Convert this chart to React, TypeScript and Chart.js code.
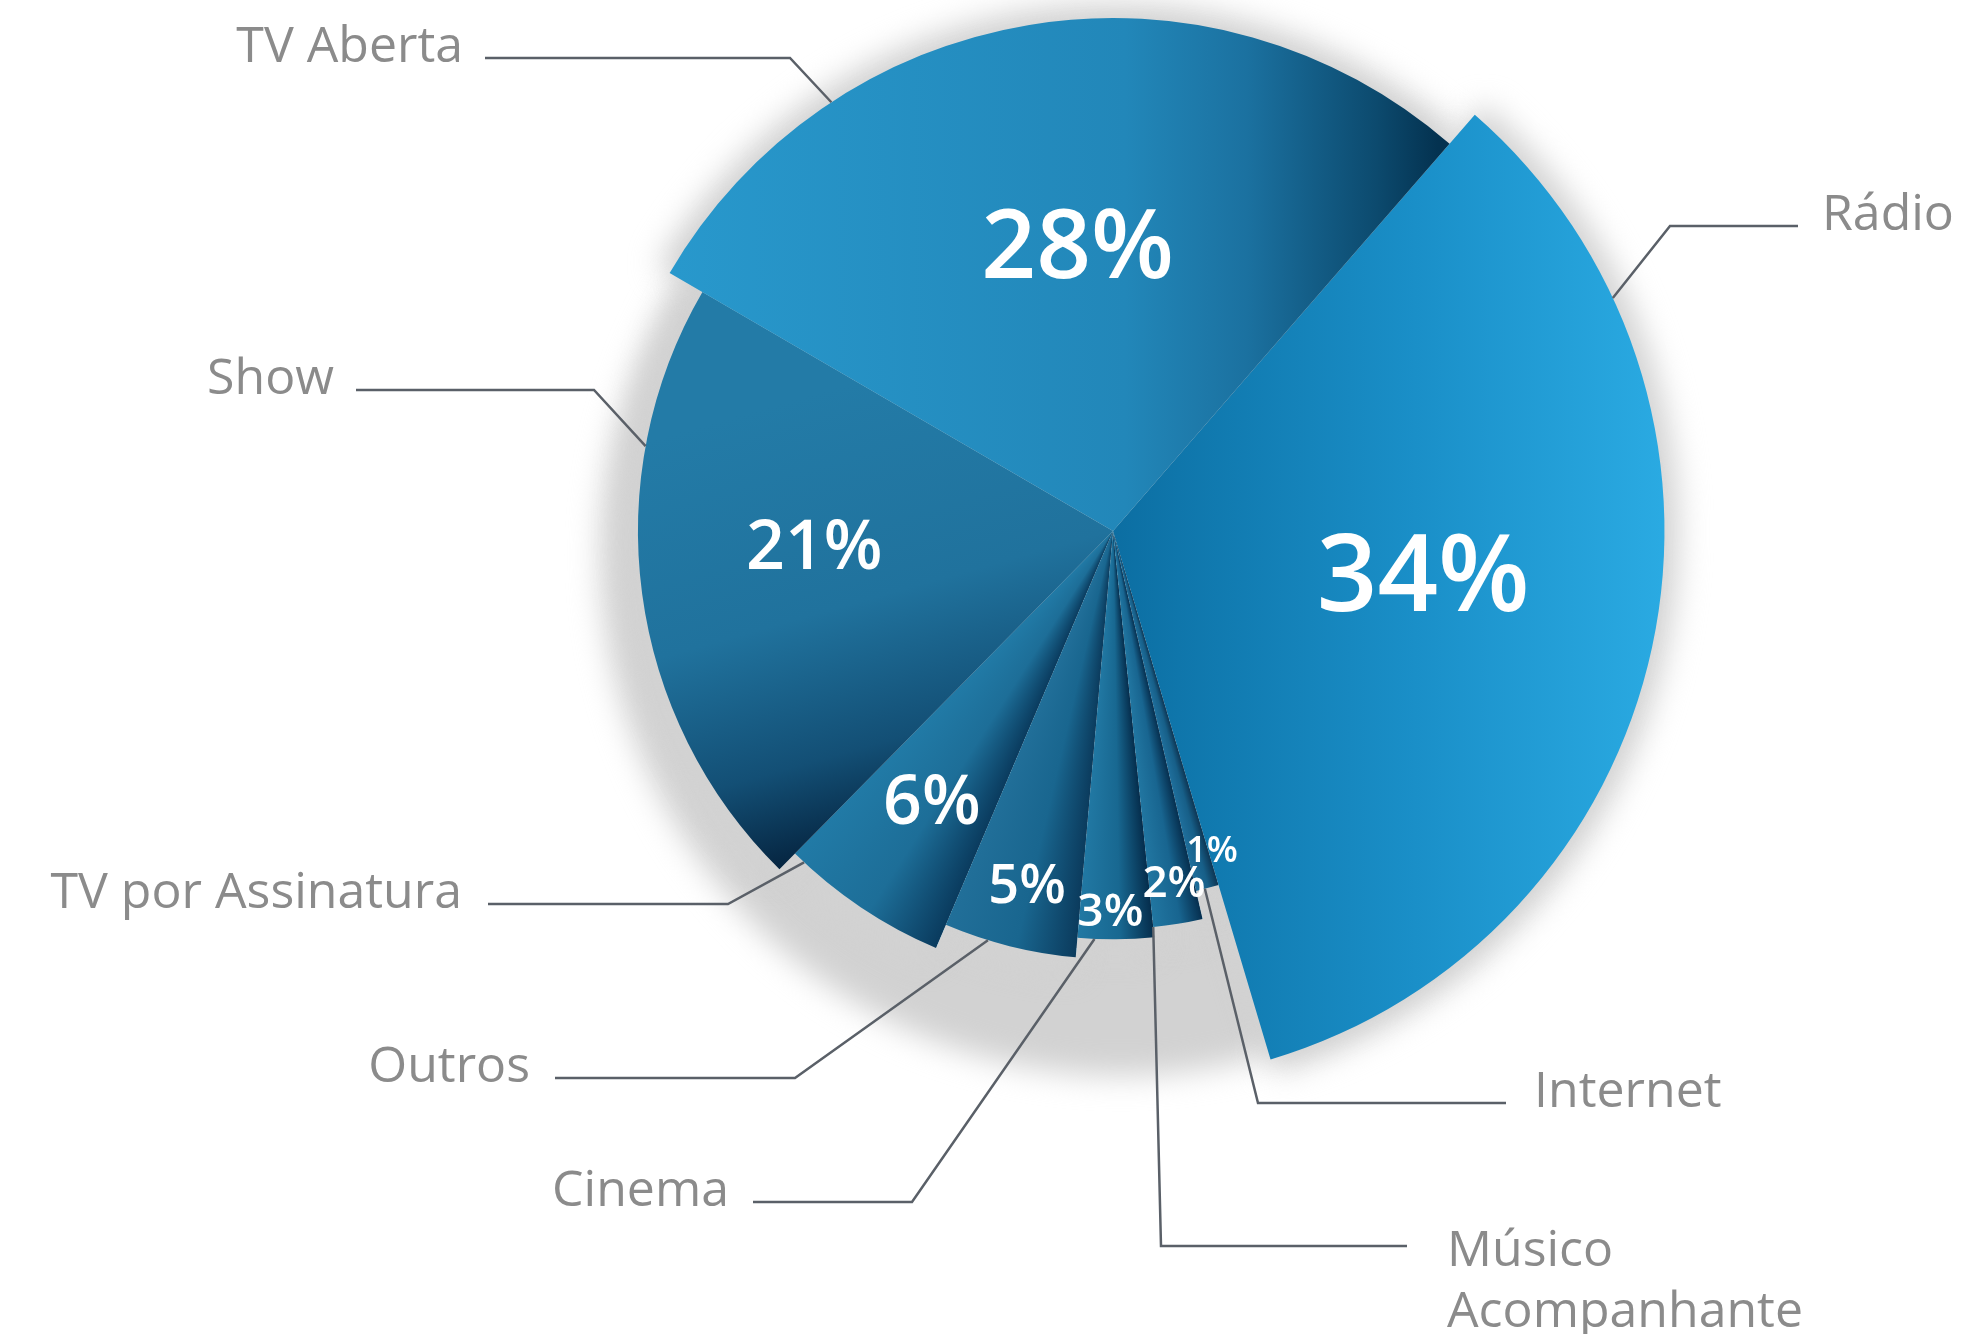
import React, { useEffect, useRef } from "react";
import { Chart, registerables } from "chart.js";

Chart.register(...registerables);

// ---------- DATA ----------
const categories = [
  "Rádio",
  "Internet",
  "Músico Acompanhante",
  "Cinema",
  "Outros",
  "TV por Assinatura",
  "Show",
  "TV Aberta",
];
const shares = [34, 1, 2, 3, 5, 6, 21, 28];
const valueLabels = ["34%", "1%", "2%", "3%", "5%", "6%", "21%", "28%"];
const calloutLines = [
  ["Rádio"],
  ["Internet"],
  ["Músico", "Acompanhante"],
  ["Cinema"],
  ["Outros"],
  ["TV por Assinatura"],
  ["Show"],
  ["TV Aberta"],
];

// ---------- STYLE / LAYOUT ----------
const ROTATION = 41;
const PADDING = { left: 600, right: 335, top: 18, bottom: 290 };
const RADIUS_FACTOR = [1.075, 0.72, 0.776, 0.796, 0.834, 0.883, 0.926, 1];
const VALUE_FONT = [106, 36, 44, 46, 54, 68, 68, 96];
const VALUE_DIST = [313, 333, 355, 378, 363, 324, 299, 290];
const VALUE_SHIFT = [-4.6, -2.5, -0.5, 0.8, -0.3, 0.2, 5, 2.4];
const CALLOUT = [
  { a: -25, ex: 1670, ey: 226, end: 1798, side: 1, gap: 24 },
  { a: 75.6, ex: 1258, ey: 1103, end: 1506, side: 1, gap: 28 },
  { a: 84.2, ex: 1161, ey: 1246, end: 1407, side: 1, gap: 40 },
  { a: 92.6, ex: 912, ey: 1202, end: 753, side: -1, gap: 24 },
  { a: 107, ex: 795, ey: 1078, end: 555, side: -1, gap: 25 },
  { a: 133, ex: 728, ey: 904, end: 488, side: -1, gap: 26 },
  { a: 190.3, ex: 594, ey: 390, end: 356, side: -1, gap: 22 },
  { a: 236.7, ex: 790, ey: 58, end: 485, side: -1, gap: 22 },
];
const SMALL_COLORS = [
  null,
  ["#0d3553", "#175f88", "#1f6f9c"],
  ["#062f4f", "#186590", "#2176a1"],
  ["#052d4c", "#186891", "#2178a3"],
  ["#0b3b5d", "#19668f", "#216f99"],
  ["#0a3b5e", "#1d6e98", "#217aa6"],
];

const DEG = Math.PI / 180;

function geometry(chart: any) {
  const a = chart.chartArea;
  return {
    cx: (a.left + a.right) / 2,
    cy: (a.top + a.bottom) / 2,
    R: Math.min(a.width, a.height) / 2,
  };
}

function sliceAngles(i: number) {
  const total = shares.reduce((s, v) => s + v, 0);
  let cum = 0;
  for (let j = 0; j < i; j++) cum += shares[j];
  const a0 = (ROTATION - 90) * DEG + (cum / total) * 2 * Math.PI;
  const a1 = a0 + (shares[i] / total) * 2 * Math.PI;
  return [a0, a1];
}

function sliceFill(chart: any, i: number) {
  if (!chart.chartArea) return "#2080b0";
  const ctx: CanvasRenderingContext2D = chart.ctx;
  const { cx, cy, R } = geometry(chart);
  if (i === 0) {
    const g = ctx.createLinearGradient(cx, 0, cx + R * 1.07, 0);
    g.addColorStop(0, "#0c6ea2");
    g.addColorStop(0.12, "#0f76ab");
    g.addColorStop(0.55, "#1a8fc8");
    g.addColorStop(1, "#2aaae2");
    return g;
  }
  if (i === 7) {
    const g = ctx.createLinearGradient(cx - 438, 0, cx + 325, 0);
    g.addColorStop(0, "#2898cc");
    g.addColorStop(0.59, "#2287b9");
    g.addColorStop(0.75, "#1b71a0");
    g.addColorStop(0.92, "#0c4a6e");
    g.addColorStop(1, "#043250");
    return g;
  }
  if (i === 6) {
    const g = ctx.createLinearGradient(cx - 363, cy - 119, cx - 235, cy + 335);
    g.addColorStop(0, "#237ba7");
    g.addColorStop(0.45, "#20729d");
    g.addColorStop(0.75, "#134f75");
    g.addColorStop(1, "#021a33");
    return g;
  }
  const [a0, a1] = sliceAngles(i);
  const f = (a1 - a0) / (2 * Math.PI);
  const cols = SMALL_COLORS[i] as string[];
  const g = (ctx as any).createConicGradient(a0, cx, cy);
  g.addColorStop(0, cols[0]);
  g.addColorStop(f * 0.45, cols[1]);
  g.addColorStop(f, cols[2]);
  g.addColorStop(Math.min(1, f + 0.002), cols[2]);
  g.addColorStop(1, cols[2]);
  return g;
}

const infographicPlugin = {
  id: "infographic",
  afterDatasetsUpdate(chart: any) {
    const meta = chart.getDatasetMeta(0);
    const base = meta.controller.outerRadius;
    meta.data.forEach((arc: any, i: number) => {
      arc.outerRadius = base * RADIUS_FACTOR[i];
    });
  },
  beforeDatasetsDraw(chart: any) {
    const ctx: CanvasRenderingContext2D = chart.ctx;
    const { cx, cy, R } = geometry(chart);
    const meta = chart.getDatasetMeta(0);
    ctx.save();
    ctx.filter = "blur(15px)";
    ctx.fillStyle = "#d2d2d2";
    ctx.beginPath();
    ctx.arc(cx + 8, cy + 24, R * 1.015, 0, Math.PI * 2);
    ctx.fill();
    meta.data.forEach((arc: any) => {
      ctx.beginPath();
      ctx.moveTo(arc.x, arc.y);
      ctx.arc(arc.x, arc.y, arc.outerRadius + 14, arc.startAngle, arc.endAngle);
      ctx.closePath();
      ctx.fill();
    });
    ctx.restore();
  },
  afterDatasetsDraw(chart: any) {
    const ctx: CanvasRenderingContext2D = chart.ctx;
    const { cx, cy } = geometry(chart);
    const meta = chart.getDatasetMeta(0);
    ctx.save();
    meta.data.forEach((arc: any, i: number) => {
      const c = CALLOUT[i];
      const r = arc.outerRadius;
      const ax = cx + r * Math.cos(c.a * DEG);
      const ay = cy + r * Math.sin(c.a * DEG);
      ctx.beginPath();
      ctx.moveTo(ax, ay);
      ctx.lineTo(c.ex, c.ey);
      ctx.lineTo(c.end, c.ey);
      ctx.strokeStyle = "#5a6068";
      ctx.lineWidth = 2.5;
      ctx.lineJoin = "miter";
      ctx.stroke();

      ctx.fillStyle = "#8b8b8b";
      ctx.font = '400 50px "Open Sans"';
      ctx.textBaseline = "alphabetic";
      ctx.textAlign = c.side > 0 ? "left" : "right";
      const tx = c.end + c.side * c.gap;
      const lines = calloutLines[i];
      if (lines.length === 1) {
        ctx.fillText(lines[0], tx, c.ey + 4);
      } else {
        lines.forEach((t, k) => ctx.fillText(t, tx, c.ey + 20 + k * 61));
      }
    });
    meta.data.forEach((arc: any, i: number) => {
      const mid = (arc.startAngle + arc.endAngle) / 2 + VALUE_SHIFT[i] * DEG;
      const x = cx + VALUE_DIST[i] * Math.cos(mid);
      const y = cy + VALUE_DIST[i] * Math.sin(mid);
      const size = VALUE_FONT[i];
      ctx.fillStyle = "#ffffff";
      ctx.font = `600 ${size}px "Open Sans"`;
      ctx.textAlign = "center";
      ctx.textBaseline = "alphabetic";
      ctx.fillText(valueLabels[i], x, y + size * 0.36);
    });
    ctx.restore();
  },
};

export default function App() {
  const ref = useRef<HTMLCanvasElement>(null);
  useEffect(() => {
    const chart = new Chart(ref.current as HTMLCanvasElement, {
      type: "pie",
      data: {
        labels: categories,
        datasets: [
          {
            data: shares,
            backgroundColor: (c: any) => sliceFill(c.chart, c.dataIndex),
            borderWidth: 0,
            hoverOffset: 0,
          } as any,
        ],
      },
      options: {
        responsive: true,
        maintainAspectRatio: false,
        animation: false,
        rotation: ROTATION,
        events: [],
        layout: { padding: PADDING },
        plugins: {
          legend: { display: false },
          tooltip: { enabled: false },
        },
      } as any,
      plugins: [infographicPlugin as any],
    });
    return () => chart.destroy();
  }, []);
  return (
    <div
      style={{
        position: "absolute",
        left: 0,
        top: 0,
        width: 1961,
        height: 1334,
        background: "#ffffff",
      }}
    >
      <canvas ref={ref} />
    </div>
  );
}
